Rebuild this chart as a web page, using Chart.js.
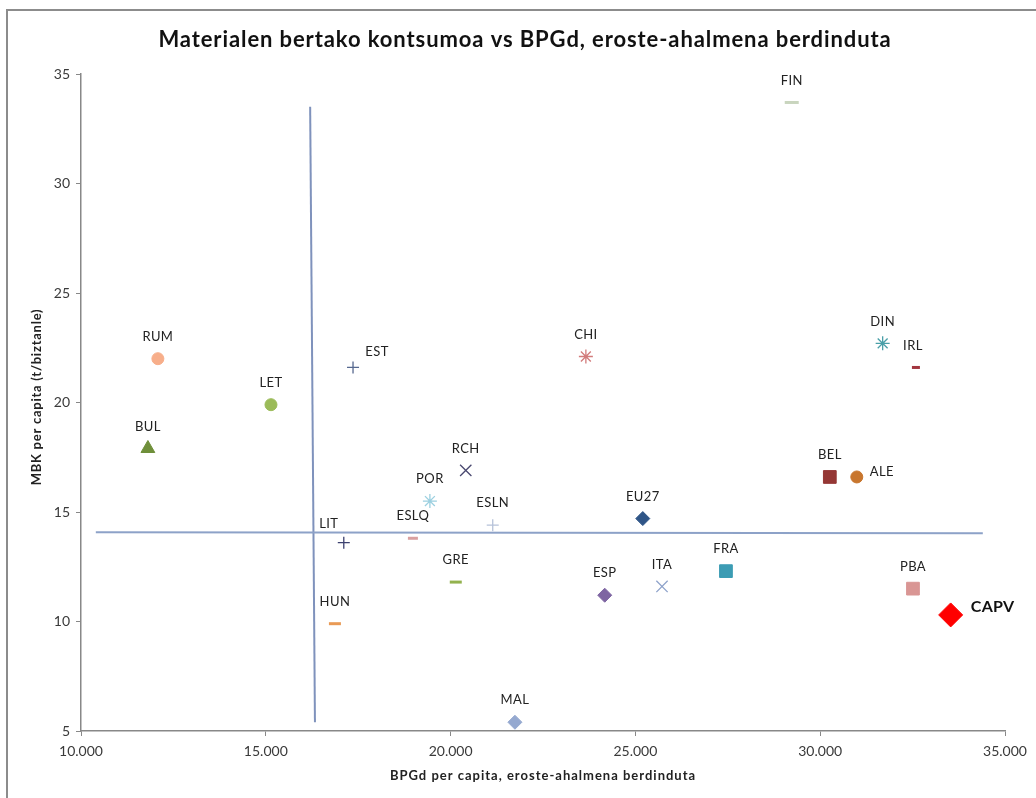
<!DOCTYPE html>
<html>
<head>
<meta charset="utf-8">
<title>Materialen bertako kontsumoa vs BPGd</title>
<script src="https://cdn.jsdelivr.net/npm/chart.js@4/dist/chart.umd.min.js"></script>
<style>
    html, body { margin: 0; padding: 0; background: #fff; }
    #chart { display: block; }
</style>
</head>
<body>
<canvas id="chart" width="1036" height="798"></canvas>
<script>
// herrialdeak eta balioak (grafikotik irakurriak)
const countries = ['RUM', 'LET', 'BUL', 'EST', 'LIT', 'ESLQ', 'POR', 'RCH', 'ESLN', 'GRE', 'HUN', 'MAL',
    'CHI', 'FIN', 'DIN', 'IRL', 'EU27', 'BEL', 'ALE', 'ESP', 'ITA', 'FRA', 'PBA', 'CAPV'];
const gdpPerCapita = [12080, 15140, 11810, 17360, 17110, 18980, 19440, 20410, 21140, 20140, 16870, 21740,
    23660, 29230, 31690, 32590, 25200, 30260, 30990, 24170, 25720, 27450, 32510, 33530];
const dmcPerCapita = [22.0, 19.9, 17.9, 21.6, 13.6, 13.8, 15.5, 16.9, 14.4, 11.8, 9.9, 5.4,
    22.1, 33.7, 22.7, 21.6, 14.7, 16.6, 16.6, 11.2, 11.6, 12.3, 11.5, 10.3];

// batez besteko lerroak
const avgGdpLineX = [16200, 16330];
const avgGdpLineY = [33.5, 5.4];
const avgDmcLineX = [10400, 34400];
const avgDmcLineY = [14.07, 14.03];

const xTicks = [10000, 15000, 20000, 25000, 30000, 35000];
const yTicks = [5, 10, 15, 20, 25, 30, 35];

// markatzaileen estiloa
const markerStyles = ['circle', 'circle', 'triangle', 'cross', 'cross', 'line', 'star', 'crossRot', 'cross', 'line', 'line', 'rectRot',
    'star', 'line', 'star', 'line', 'rectRot', 'rect', 'circle', 'rectRot', 'crossRot', 'rect', 'rect', 'rectRot'];
const markerColors = ['#F7AE8A', '#9BBB59', '#6F8F3A', '#56688F', '#3D4270', '#D9A0A0', '#9CD0E0', '#4A4870', '#B6C2D9', '#93B24E', '#E99A55', '#95A9D0',
    '#D27B7B', '#C9D5BE', '#4A9FA8', '#A3353F', '#2F5587', '#953735', '#C8762E', '#7E65A2', '#8FA3CB', '#3C9CB4', '#D99694', '#FF0000'];
const markerSizes = [6, 6, 8, 6, 6, 5, 7, 8, 6, 6, 6, 7,
    7, 7, 7, 4, 7, 9, 6, 7, 8, 9, 9, 12];
const labelOffsets = {
    EST: [24, -16], LIT: [-15, -19], ALE: [25, -5], CAPV: [42, -8], IRL: [-3, -22]
};

const fontFamily = 'Lato, "Open Sans", sans-serif';

function thousands(v) {
    return String(v).replace(/\B(?=(\d{3})+(?!\d))/g, '.');
}

const decorations = {
    id: 'decorations',
    beforeDraw(chart) {
        const ctx = chart.ctx;
        ctx.save();
        ctx.strokeStyle = '#8C8C8C';
        ctx.lineWidth = 2;
        ctx.beginPath();
        ctx.moveTo(7, 798);
        ctx.lineTo(7, 10);
        ctx.lineTo(1036, 10);
        ctx.stroke();
        ctx.restore();
    },
    afterDatasetsDraw(chart) {
        const ctx = chart.ctx;
        const area = chart.chartArea;
        ctx.save();
        ctx.textAlign = 'center';
        ctx.textBaseline = 'middle';

        // izenburua
        ctx.fillStyle = '#111';
        ctx.font = 'bold 22px ' + fontFamily;
        ctx.letterSpacing = '0.9px';
        ctx.fillText('Materialen bertako kontsumoa vs BPGd, eroste-ahalmena berdinduta', 525, 40);

        // ardatzen izenburuak
        ctx.font = 'bold 13px ' + fontFamily;
        ctx.fillStyle = '#222';
        ctx.letterSpacing = '1px';
        ctx.fillText('BPGd per capita, eroste-ahalmena berdinduta', (area.left + area.right) / 2, 776);
        ctx.save();
        ctx.translate(37, 397);
        ctx.rotate(-Math.PI / 2);
        ctx.letterSpacing = '0.75px';
        ctx.fillText('MBK per capita (t/biztanle)', 0, 0);
        ctx.restore();

        // puntuen etiketak
        const meta = chart.getDatasetMeta(2);
        meta.data.forEach((pt, i) => {
            const name = countries[i];
            const off = labelOffsets[name] || [0, -22];
            if (name === 'CAPV') {
                ctx.font = 'bold 16px ' + fontFamily;
                ctx.fillStyle = '#111';
                ctx.letterSpacing = '0.3px';
            } else {
                ctx.font = '13px ' + fontFamily;
                ctx.fillStyle = '#222';
                ctx.letterSpacing = '0.4px';
            }
            ctx.fillText(name, pt.x + off[0], pt.y + off[1]);
        });
        ctx.restore();
    }
};

const ctx = document.getElementById('chart').getContext('2d');
new Chart(ctx, {
    type: 'scatter',
    data: {
        datasets: [
            {
                label: 'avgGdp',
                data: avgGdpLineX.map((x, i) => ({ x: x, y: avgGdpLineY[i] })),
                showLine: true,
                borderColor: '#7F92BC',
                borderWidth: 2,
                pointRadius: 0,
                order: 3
            },
            {
                label: 'avgDmc',
                data: avgDmcLineX.map((x, i) => ({ x: x, y: avgDmcLineY[i] })),
                showLine: true,
                borderColor: '#8DA2C8',
                borderWidth: 2,
                pointRadius: 0,
                order: 2
            },
            {
                label: 'countries',
                data: gdpPerCapita.map((x, i) => ({ x: x, y: dmcPerCapita[i] })),
                pointStyle: markerStyles,
                pointRadius: markerSizes,
                pointHoverRadius: markerSizes,
                pointBackgroundColor: markerColors,
                pointBorderColor: markerColors,
                pointBorderWidth: markerStyles.map(s => s === 'line' ? 3 : (s === 'cross' || s === 'crossRot' || s === 'star') ? 1.3 : 1),
                order: 1
            }
        ]
    },
    options: {
        responsive: false,
        animation: false,
        layout: { padding: { top: 74, right: 31, left: 0, bottom: 0 } },
        plugins: {
            legend: { display: false },
            title: { display: false },
            tooltip: { enabled: false }
        },
        scales: {
            x: {
                type: 'linear',
                min: 10000,
                max: 35000,
                afterFit(scale) { scale.height = 67; },
                afterBuildTicks(scale) { scale.ticks = xTicks.map(v => ({ value: v })); },
                ticks: {
                    callback: v => thousands(v),
                    color: '#3A3A3A',
                    font: { family: fontFamily, size: 14 },
                    padding: 7,
                    maxRotation: 0
                },
                grid: { drawOnChartArea: false, drawTicks: true, tickLength: 5, color: '#888' },
                border: { color: '#888', width: 1.5 }
            },
            y: {
                type: 'linear',
                min: 5,
                max: 35,
                afterFit(scale) { scale.width = 81; },
                afterBuildTicks(scale) { scale.ticks = yTicks.map(v => ({ value: v })); },
                ticks: {
                    color: '#3A3A3A',
                    font: { family: fontFamily, size: 14 },
                    padding: 6
                },
                grid: { drawOnChartArea: false, drawTicks: true, tickLength: 5, color: '#888' },
                border: { color: '#888', width: 1.5 }
            }
        }
    },
    plugins: [decorations]
});
</script>
</body>
</html>
